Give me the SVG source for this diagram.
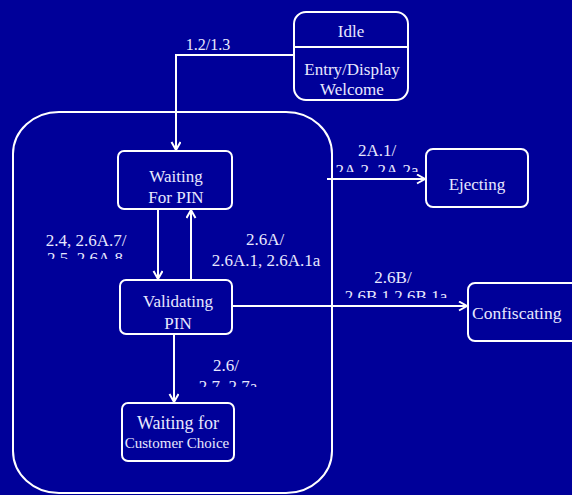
<svg xmlns="http://www.w3.org/2000/svg" width="572" height="495" viewBox="0 0 572 495">
<style>
.bg{fill:#000099}
.box{fill:none;stroke:#ffffff;stroke-width:2}
.ln{fill:none;stroke:#ffffff;stroke-width:2}
.t{font-family:"Liberation Serif","Times New Roman",serif;font-size:17px;fill:#e8e8ff;text-anchor:middle}
.lb{font-family:"Liberation Serif","Times New Roman",serif;font-size:17px;fill:#e8e8ff;text-anchor:middle}
</style>
<defs>
<marker id="arr" markerUnits="userSpaceOnUse" markerWidth="12" markerHeight="12" refX="9" refY="5" orient="auto">
<path d="M1,0.5 L9,5 L1,9.5" fill="none" stroke="#ffffff" stroke-width="2"/>
</marker>
<clipPath id="c1"><rect x="0" y="0" width="572" height="259"/></clipPath>
<clipPath id="c2"><rect x="0" y="0" width="572" height="172"/></clipPath>
<clipPath id="c3"><rect x="0" y="0" width="572" height="298"/></clipPath>
<clipPath id="c4"><rect x="0" y="0" width="572" height="387"/></clipPath>
</defs>
<rect class="bg" x="0" y="0" width="572" height="495"/>

<g id="superstate">
<rect class="box" x="13" y="112" width="319" height="381" rx="46" ry="42"/>
</g>

<g id="idle">
<rect class="box" x="294" y="12" width="114" height="88" rx="12"/>
<line class="ln" x1="294" y1="47" x2="408" y2="47"/>
<text class="t" x="351" y="37">Idle</text>
<text class="t" x="352" y="75">Entry/Display</text>
<text class="t" x="352" y="95">Welcome</text>
</g>

<g id="waiting-pin">
<rect class="box" x="118" y="151" width="114" height="58" rx="6"/>
<text class="t" x="176" y="182">Waiting</text>
<text class="t" x="176" y="203">For PIN</text>
</g>

<g id="validating">
<rect class="box" x="120" y="280" width="112" height="54" rx="6"/>
<text class="t" x="178" y="307">Validating</text>
<text class="t" x="178" y="329">PIN</text>
</g>

<g id="waiting-choice">
<rect class="box" x="122" y="403" width="112" height="58" rx="6"/>
<text class="t" x="178" y="429" style="font-size:18px">Waiting for</text>
<text class="t" x="177" y="448" style="font-size:15px">Customer Choice</text>
</g>

<g id="ejecting">
<rect class="box" x="426" y="149" width="102" height="58" rx="7"/>
<text class="t" x="477" y="190">Ejecting</text>
</g>

<g id="confiscating">
<rect class="box" x="468" y="283" width="110" height="58" rx="7"/>
<text class="t" x="472" y="319" style="text-anchor:start;font-size:17.5px">Confiscating</text>
</g>

<g id="connectors">
<path class="ln" d="M294,55 H176 V150" marker-end="url(#arr)"/>
<path class="ln" d="M158,209 V279" marker-end="url(#arr)"/>
<path class="ln" d="M191,280 V210" marker-end="url(#arr)"/>
<path class="ln" d="M174,334 V402" marker-end="url(#arr)"/>
<path class="ln" d="M327,179 H425" marker-end="url(#arr)"/>
<path class="ln" d="M232,306 H467" marker-end="url(#arr)"/>
<text class="lb" x="208" y="50" style="font-size:16px">1.2/1.3</text>
<g clip-path="url(#c1)">
<text class="lb" x="86" y="246">2.4, 2.6A.7/</text>
<text class="lb" x="85" y="264">2.5, 2.6A.8</text>
</g>
<text class="lb" x="265" y="245">2.6A/</text>
<text class="lb" x="266" y="266">2.6A.1, 2.6A.1a</text>
<g clip-path="url(#c2)">
<text class="lb" x="377" y="156">2A.1/</text>
<text class="lb" x="377" y="176">2A.2, 2A.2a</text>
</g>
<g clip-path="url(#c3)">
<text class="lb" x="393" y="283">2.6B/</text>
<text class="lb" x="396" y="302">2.6B.1,2.6B.1a</text>
</g>
<g clip-path="url(#c4)">
<text class="lb" x="226" y="371">2.6/</text>
<text class="lb" x="228" y="392">2.7, 2.7a</text>
</g>
</g>
</svg>
